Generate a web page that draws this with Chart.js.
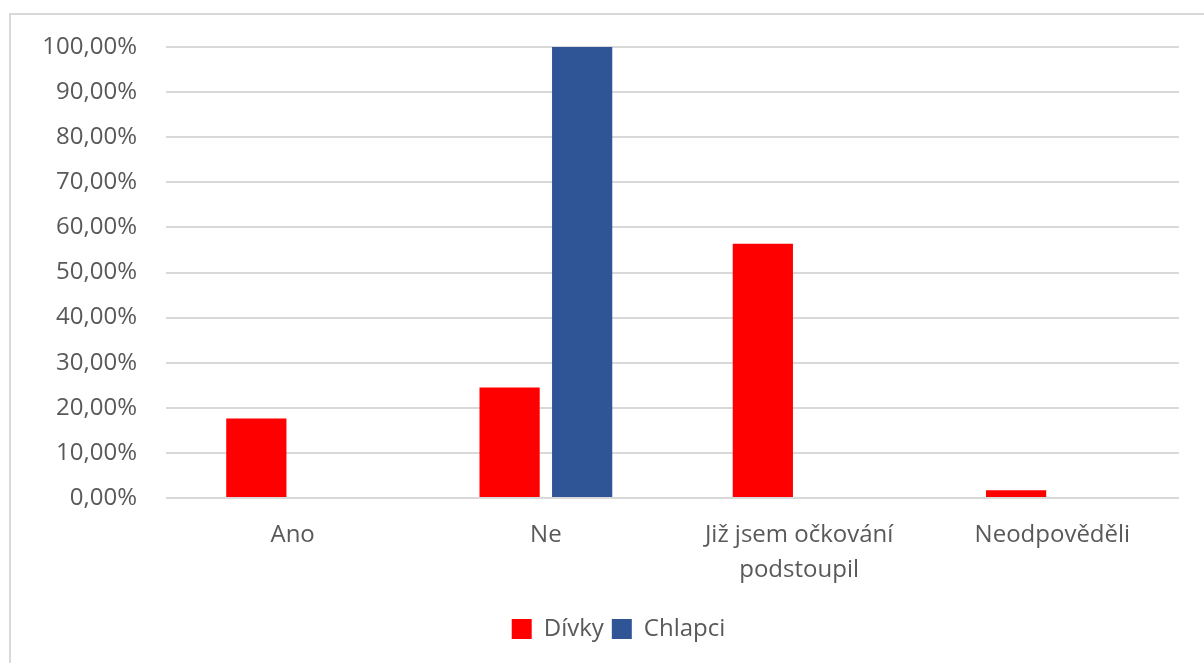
<!DOCTYPE html>
<html>
<head>
<meta charset="utf-8">
<script src="https://cdn.jsdelivr.net/npm/chart.js@4/dist/chart.umd.min.js"></script>
<style>
  html, body { margin: 0; padding: 0; background: #fff; }
  #wrap { position: relative; width: 1204px; height: 663px; overflow: hidden; }
  #frame { position: absolute; left: 9px; top: 13px; width: 1300px; height: 700px;
           border: 2px solid #d9d9d9; box-sizing: border-box; }
  canvas { position: absolute; left: 0; top: 0; }
</style>
</head>
<body>
<div id="wrap">
  <div id="frame"></div>
  <canvas id="c" width="1204" height="663"></canvas>
</div>
<script>
// Survey answers (share of respondents, %)
const categories = ["Ano", "Ne", ["Již jsem očkování", "podstoupil"], "Neodpověděli"];
const divky = [17.6, 24.5, 56.4, 1.7];
const chlapci = [0, 100, 0, 0];
const seriesNames = ["Dívky", "Chlapci"];

const textColor = "#595959";
const gridColor = "#d9d9d9";
const fontFamily = "'Open Sans', 'Liberation Sans', sans-serif";
const fontSize = 24;

// Centre the legend under the whole frame rather than the canvas
const legendShift = {
  id: "legendShift",
  afterLayout(chart) {
    const lg = chart.legend;
    if (lg) { lg.left += 15; lg.right += 15; lg.adjustHitBoxes(); }
  }
};

new Chart(document.getElementById("c"), {
  type: "bar",
  data: {
    labels: categories,
    datasets: [
      { label: seriesNames[0], data: divky, backgroundColor: "#ff0000",
        categoryPercentage: 0.573, barPercentage: 0.83 },
      { label: seriesNames[1], data: chlapci, backgroundColor: "#2f5597",
        categoryPercentage: 0.573, barPercentage: 0.83 }
    ]
  },
  plugins: [legendShift],
  options: {
    responsive: false,
    animation: false,
    layout: { padding: { left: 28, right: 25, top: 47, bottom: 12 } },
    plugins: {
      tooltip: { enabled: false },
      legend: {
        position: "bottom",
        labels: {
          color: textColor,
          font: { family: fontFamily, size: fontSize },
          boxWidth: 20, boxHeight: 20, padding: 8
        }
      }
    },
    scales: {
      x: {
        grid: { display: false },
        border: { display: false },
        ticks: {
          color: textColor, padding: 12,
          font: { family: fontFamily, size: fontSize, lineHeight: 1.46 },
          maxRotation: 0, autoSkip: false
        },
        afterFit: (s) => { s.height = 111; }
      },
      y: {
        min: 0, max: 100,
        grid: { color: gridColor, lineWidth: 2, drawTicks: false },
        border: { display: false },
        ticks: {
          stepSize: 10, padding: 29, color: textColor,
          font: { family: fontFamily, size: fontSize },
          callback: (v) => v.toFixed(2).replace(".", ",") + "%"
        },
        afterFit: (s) => { s.width = 138; }
      }
    }
  }
});
</script>
</body>
</html>
